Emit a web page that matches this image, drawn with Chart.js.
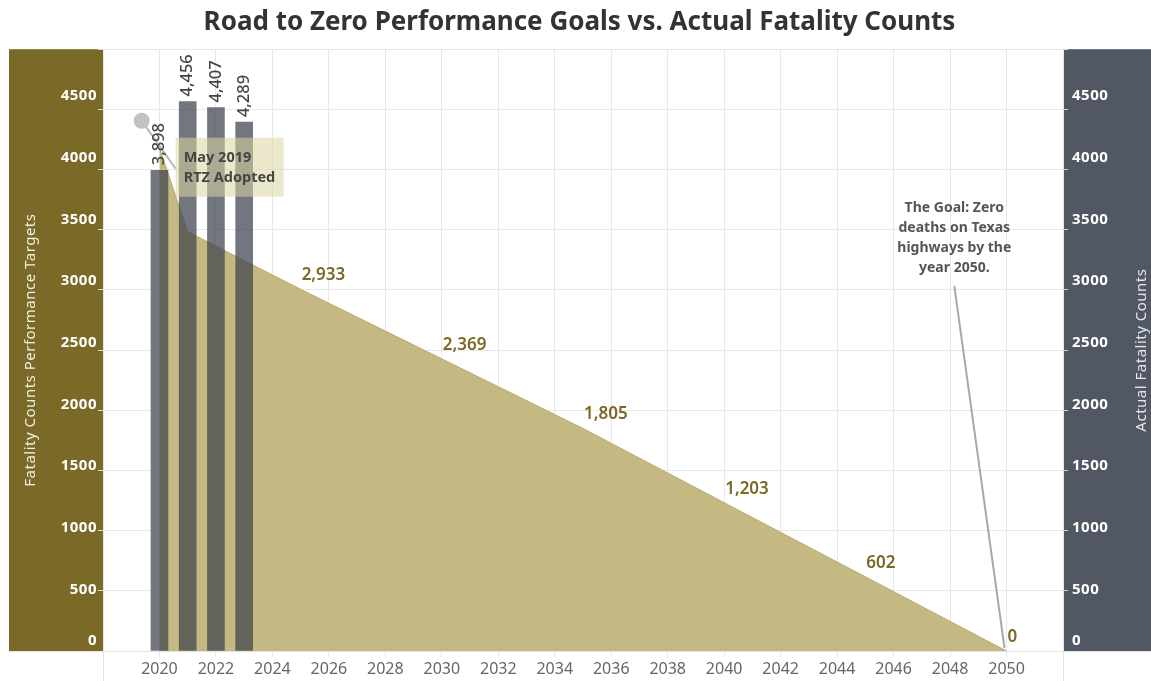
<!DOCTYPE html>
<html>
<head>
<meta charset="utf-8">
<script src="https://cdn.jsdelivr.net/npm/chart.js@4.4.0/dist/chart.umd.min.js"></script>
<style>
    html, body { margin: 0; padding: 0; background: #fff; }
    #wrap { width: 1151px; height: 681px; }
</style>
</head>
<body>
<div id="wrap"><canvas id="fatalityChart" width="1151" height="681"></canvas></div>
<script>
// Actual fatality counts (bars, right axis)
const actualYears = [2020, 2021, 2022, 2023];
const actualCounts = [3898, 4456, 4407, 4289];

// Road to Zero performance targets (area, left axis)
const targetYears = [2020, 2021, 2025, 2030, 2035, 2040, 2045, 2050];
const targetCounts = [4080, 3400, 2933, 2369, 1805, 1203, 602, 0];
const labeledTargetYears = [2025, 2030, 2035, 2040, 2045, 2050];

// Axis ticks
const yTickValues = [0, 500, 1000, 1500, 2000, 2500, 3000, 3500, 4000, 4500];
const xTickYears = [2020, 2022, 2024, 2026, 2028, 2030, 2032, 2034, 2036, 2038, 2040, 2042, 2044, 2046, 2048, 2050];

const FONT = '"Noto Sans", "Open Sans", sans-serif';
const OLIVE = '#7b6a27';
const SLATE = '#525863';

// Draw the coloured axis panels behind everything
const panelPlugin = {
    id: 'panels',
    beforeDraw(chart) {
        const { ctx, chartArea, width } = chart;
        ctx.save();
        ctx.fillStyle = OLIVE;
        ctx.fillRect(9, chartArea.top, chartArea.left - 9, chartArea.bottom - chartArea.top);
        ctx.fillStyle = SLATE;
        ctx.fillRect(chartArea.right, chartArea.top, width - chartArea.right, chartArea.bottom - chartArea.top);
        ctx.restore();
    },
    afterDraw(chart) {
        const { ctx, chartArea, width, height } = chart;
        ctx.save();
        ctx.strokeStyle = '#e3e3e3';
        ctx.lineWidth = 1;
        ctx.beginPath();
        ctx.moveTo(9, chartArea.bottom + 0.5);
        ctx.lineTo(width, chartArea.bottom + 0.5);
        ctx.moveTo(chartArea.left + 0.5, chartArea.bottom);
        ctx.lineTo(chartArea.left + 0.5, height);
        ctx.moveTo(chartArea.right + 0.5, chartArea.bottom);
        ctx.lineTo(chartArea.right + 0.5, height);
        ctx.stroke();
        ctx.restore();
    }
};

// Tick labels, axis titles, value labels and annotations
const labelPlugin = {
    id: 'labels',
    afterDatasetsDraw(chart) {
        const { ctx, chartArea, scales } = chart;
        const x = scales.x, yL = scales.y;
        ctx.save();

        // y tick labels
        ctx.font = 'bold 15px ' + FONT;
        ctx.letterSpacing = '0.5px';
        ctx.textBaseline = 'middle';
        yTickValues.forEach(v => {
            let py = yL.getPixelForValue(v);
            if (v === 0) py -= 10;
            ctx.fillStyle = '#ffffff';
            ctx.textAlign = 'right';
            ctx.fillText(String(v), chartArea.left - 6, py);
            ctx.textAlign = 'left';
            ctx.fillText(String(v), chartArea.right + 9, py);
        });

        // axis titles
        ctx.font = '15px ' + FONT;
        ctx.fillStyle = '#f1eee2';
        ctx.textAlign = 'center';
        ctx.save();
        ctx.translate(31, (chartArea.top + chartArea.bottom) / 2);
        ctx.rotate(-Math.PI / 2);
        ctx.fillText('Fatality Counts Performance Targets', 0, 0);
        ctx.restore();
        ctx.fillStyle = '#e6e7ea';
        ctx.save();
        ctx.translate(1142, (chartArea.top + chartArea.bottom) / 2);
        ctx.rotate(-Math.PI / 2);
        ctx.fillText('Actual Fatality Counts', 0, 0);
        ctx.restore();
        ctx.letterSpacing = '0px';

        // target value labels
        ctx.font = '600 17px ' + FONT;
        ctx.fillStyle = OLIVE;
        ctx.textAlign = 'left';
        ctx.textBaseline = 'alphabetic';
        labeledTargetYears.forEach(yr => {
            const i = targetYears.indexOf(yr);
            const px = x.getPixelForValue(yr);
            const py = yL.getPixelForValue(targetCounts[i]);
            ctx.fillText(targetCounts[i].toLocaleString('en-US'), px + 1, py - 9);
        });

        // RTZ adopted annotation
        const dotX = x.getPixelForValue(2019.37);
        const dotY = yL.getPixelForValue(4300);
        ctx.strokeStyle = '#b5b5b5';
        ctx.lineWidth = 2;
        ctx.beginPath();
        ctx.moveTo(dotX, dotY);
        ctx.lineTo(dotX + 34, dotY + 48);
        ctx.stroke();
        ctx.fillStyle = '#c2c2c2';
        ctx.beginPath();
        ctx.arc(dotX, dotY, 8, 0, Math.PI * 2);
        ctx.fill();
        ctx.fillStyle = 'rgba(221, 213, 163, 0.55)';
        ctx.fillRect(dotX + 34, dotY + 17, 108, 59);
        ctx.fillStyle = '#454545';
        ctx.font = 'bold 14.5px ' + FONT;
        ctx.textBaseline = 'middle';
        ctx.fillText('May 2019', dotX + 42, dotY + 37);
        ctx.fillText('RTZ Adopted', dotX + 42, dotY + 57);

        // goal annotation
        const goalX = x.getPixelForValue(2050);
        const goalY = yL.getPixelForValue(0);
        const noteX = x.getPixelForValue(2048.15);
        ctx.strokeStyle = '#a8a8a8';
        ctx.lineWidth = 2;
        ctx.beginPath();
        ctx.moveTo(noteX, yL.getPixelForValue(2960));
        ctx.lineTo(goalX - 2, goalY - 3);
        ctx.stroke();
        ctx.fillStyle = '#555555';
        ctx.font = 'bold 14px ' + FONT;
        ctx.textAlign = 'center';
        const goalLines = ['The Goal: Zero', 'deaths on Texas', 'highways by the', 'year 2050.'];
        goalLines.forEach((t, k) => {
            ctx.fillText(t, noteX, yL.getPixelForValue(3610) + 2 + k * 20);
        });

        ctx.restore();
    },
    afterDraw(chart) {
        // bar value labels, rotated, above each bar
        const { ctx, scales } = chart;
        ctx.save();
        ctx.font = '500 16.5px ' + FONT;
        ctx.fillStyle = '#444444';
        ctx.textAlign = 'left';
        ctx.textBaseline = 'middle';
        actualYears.forEach((yr, i) => {
            const px = scales.x.getPixelForValue(yr);
            const py = scales.yRight.getPixelForValue(actualCounts[i]);
            ctx.save();
            ctx.translate(px, py - 5);
            ctx.rotate(-Math.PI / 2);
            ctx.fillText(actualCounts[i].toLocaleString('en-US'), 0, 0);
            ctx.restore();
        });
        ctx.restore();
    }
};

const ctx = document.getElementById('fatalityChart').getContext('2d');
new Chart(ctx, {
    type: 'bar',
    data: {
        datasets: [
            {
                type: 'bar',
                label: 'Actual Fatality Counts',
                data: actualYears.map((yr, i) => ({ x: yr, y: actualCounts[i] })),
                backgroundColor: 'rgba(60, 66, 78, 0.72)',
                barThickness: 17,
                yAxisID: 'yRight',
                order: 0
            },
            {
                type: 'line',
                label: 'Fatality Counts Performance Targets',
                data: targetYears.map((yr, i) => ({ x: yr, y: targetCounts[i] })),
                yAxisID: 'y',
                fill: 'origin',
                backgroundColor: '#c4b982',
                borderColor: '#b9ac6e',
                borderWidth: 1,
                pointRadius: 0,
                tension: 0,
                order: 1
            }
        ]
    },
    options: {
        responsive: false,
        animation: false,
        layout: { padding: { left: 8, right: 0, top: 0, bottom: 0 } },
        plugins: {
            legend: { display: false },
            tooltip: { enabled: false },
            title: {
                display: true,
                text: 'Road to Zero Performance Goals vs. Actual Fatality Counts',
                color: '#333333',
                font: { size: 26, weight: 'bold', family: FONT },
                padding: { top: 7, bottom: 11 }
            }
        },
        scales: {
            x: {
                type: 'linear',
                min: 2018,
                max: 2052,
                offset: false,
                ticks: {
                    stepSize: 2,
                    autoSkip: false,
                    maxRotation: 0,
                    color: '#666666',
                    font: { size: 16, family: FONT },
                    padding: 3,
                    callback: v => xTickYears.includes(v) ? String(v) : ''
                },
                grid: { color: '#e8e8e8', offset: false, tickLength: 6 },
                border: { display: false },
                afterFit: s => { s.height = 30; }
            },
            y: {
                position: 'left',
                min: 0,
                max: 4880,
                ticks: { display: false, stepSize: 500 },
                grid: { color: '#e8e8e8', tickLength: 5, tickColor: '#d8d8d8' },
                border: { display: false },
                afterFit: s => { s.width = 95; }
            },
            yRight: {
                position: 'right',
                min: 0,
                max: 4880,
                ticks: { display: false, stepSize: 500 },
                grid: { drawOnChartArea: false, tickLength: 5, tickColor: '#d8d8d8' },
                border: { display: false },
                afterFit: s => { s.width = 88; }
            }
        }
    },
    plugins: [panelPlugin, labelPlugin]
});
</script>
</body>
</html>
